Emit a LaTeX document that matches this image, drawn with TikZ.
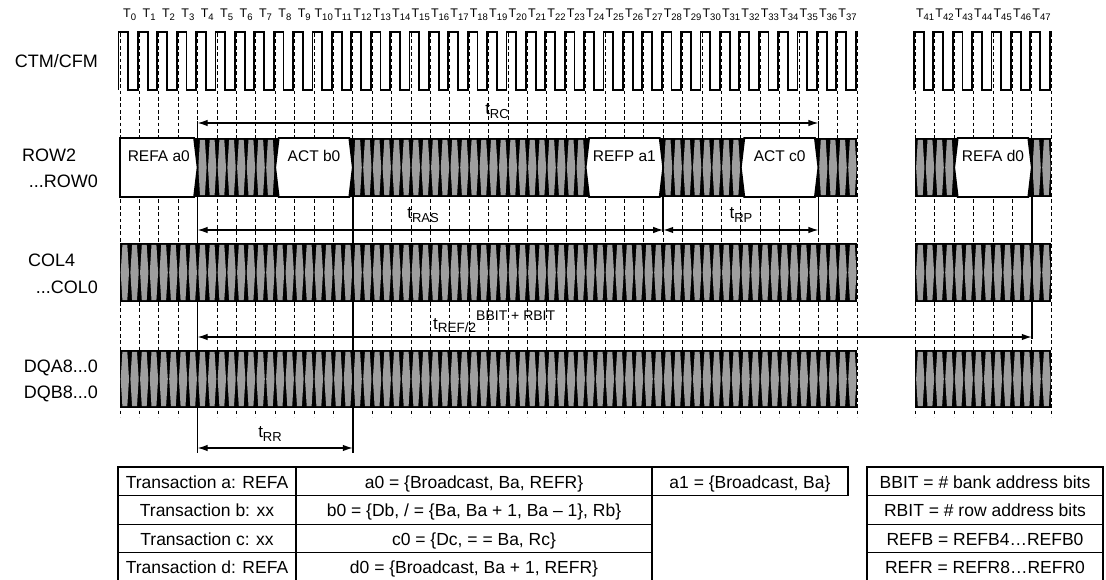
\documentclass[tikz,border=0pt]{standalone}
\usepackage{fontspec}
\setmainfont{Liberation Sans}
\usetikzlibrary{arrows.meta}
\definecolor{stip}{gray}{0.62}
\newcommand\tsub[1]{{\fontsize{17}{18}\selectfont t}\raisebox{-3.5pt}{\fontsize{13}{14}\selectfont #1}}
\newcommand\eyerow[4]{%
  \foreach \i in {#1,...,#2}{%
    \fill[stip] ({120.7+9.7*\i},{(#3+#4)/2}) -- ({122.4+9.7*\i},{#3+1.8}) -- ({127.3+9.7*\i},{#3+1.8})
      -- ({129.0+9.7*\i},{(#3+#4)/2}) -- ({127.3+9.7*\i},{#4-1.8}) -- ({122.4+9.7*\i},{#4-1.8}) -- cycle;
  }}
\newcommand\hexbox[4]{% xa, xb, label, name
  \draw[boxline] (#1,167.5) -- ({#1+3.5},138) -- ({#2-3.5},138) -- (#2,167.5) -- ({#2-3.5},197) -- ({#1+3.5},197) -- cycle;
  \node[boxlab] (#4) at ({(#1+#2)/2},156) {#3};}
\begin{document}
\begin{tikzpicture}[x=1pt,y=-1pt,
  gridline/.style={line width=1pt, dash pattern=on 3.8pt off 2.6pt},
  clk/.style={line width=1.8pt, line join=miter},
  boxline/.style={line width=1.8pt, fill=white, line join=miter},
  dimline/.style={line width=1.2pt, {Latex[length=10pt,width=6.5pt]}-{Latex[length=10pt,width=6.5pt]}},
  mkline/.style={line width=1.5pt},
  siglab/.style={font=\fontsize{18}{20}\selectfont, inner sep=0pt},
  boxlab/.style={font=\fontsize{15.5}{17}\selectfont, inner sep=0pt},
  tlab/.style={font=\fontsize{12.5}{13}\selectfont, inner sep=0pt, anchor=base},
  tablab/.style={font=\fontsize{17.5}{20}\selectfont, inner sep=0pt, anchor=base},
  cellline/.style={line width=1.2pt}
]
\useasboundingbox (0,0) rectangle (1106,580);

% dashed cycle lines
\foreach \k in {0,...,38}{\draw[gridline] ({120+19.4*\k},33) -- ({120+19.4*\k},417);}
\foreach \k in {41,...,48}{\draw[gridline] ({120+19.4*\k},33) -- ({120+19.4*\k},417);}

% cycle labels
\foreach \k in {0,...,37}{\node[tlab] (T\k) at ({129.7+19.4*\k},18) {T\raisebox{-2.4pt}{\fontsize{9.5}{10}\selectfont\k}};}
\foreach \k in {41,...,47}{\node[tlab] (T\k) at ({129.7+19.4*\k},18) {T\raisebox{-2.4pt}{\fontsize{9.5}{10}\selectfont\k}};}

% clock
\draw[clk] (118.5,90) \foreach \k in {0,...,37}{ -- ({118.5+19.4*\k},32) -- ({128.2+19.4*\k},32) -- ({128.2+19.4*\k},90) -- ({118.5+19.4*(\k+1)},90) } -- ({118.5+19.4*38},32) -- ({120.5+19.4*38},32);
\draw[clk] ({118.5+19.4*41},90) \foreach \k in {41,...,47}{ -- ({118.5+19.4*\k},32) -- ({128.2+19.4*\k},32) -- ({128.2+19.4*\k},90) -- ({118.5+19.4*(\k+1)},90) } -- ({118.5+19.4*48},32) -- ({120.5+19.4*48},32);

% bus backgrounds
\foreach \t/\b in {138/197,243/302,350/408}{
  \fill[black] (120,\t) rectangle (857.2,\b);
  \fill[black] (915.4,\t) rectangle (1051.2,\b);
}
% ROW eyes
\eyerow{8}{15}{138}{197}
\eyerow{24}{47}{138}{197}
\eyerow{56}{63}{138}{197}
\eyerow{72}{75}{138}{197}
\eyerow{82}{85}{138}{197}
\eyerow{94}{95}{138}{197}
% COL and DQ eyes
\eyerow{0}{75}{243}{302}
\eyerow{82}{95}{243}{302}
\eyerow{0}{75}{350}{408}
\eyerow{82}{95}{350}{408}

% ROW packets
\draw[boxline] (120,138) -- (194.1,138) -- (197.6,167.5) -- (194.1,197) -- (120,197) -- cycle;
\node[boxlab] (a0) at (158.8,156) {REFA a0};
\hexbox{275.2}{352.8}{ACT b0}{b0}
\hexbox{585.6}{663.2}{REFP a1}{a1}
\hexbox{740.8}{818.4}{ACT c0}{c0}
\hexbox{954.2}{1031.8}{REFA d0}{d0}

% signal names
\node[siglab, anchor=base east] (sclk) at (98,68) {CTM/CFM};
\node[siglab, anchor=base west] (srow2) at (22,162) {ROW2};
\node[siglab, anchor=base east] (srow0) at (98,188) {...ROW0};
\node[siglab, anchor=base west] (scol4) at (28,266) {COL4};
\node[siglab, anchor=base east] (scol0) at (98,293) {...COL0};
\node[siglab, anchor=base east] (sdqa) at (98,372) {DQA8...0};
\node[siglab, anchor=base east] (sdqb) at (98,398) {DQB8...0};

% marker lines
\coordinate (m4t) at (197.6,121); \coordinate (m4b) at (197.6,453);
\coordinate (m12t) at (352.8,138); \coordinate (m12b) at (352.8,453);
\coordinate (m28t) at (663.2,138); \coordinate (m28b) at (663.2,232);
\coordinate (m36t) at (818.4,121); \coordinate (m36b) at (818.4,232);
\coordinate (m47t) at (1031.8,138); \coordinate (m47b) at (1031.8,339);
\draw[mkline] (m4t) -- (m4b);
\draw[mkline] (m12t) -- (m12b);
\draw[mkline] (m28t) -- (m28b);
\draw[mkline] (m36t) -- (m36b);
\draw[mkline] (m47t) -- (m47b);

% dimension arrows
\coordinate (rcA) at (197.6,123); \coordinate (rcB) at (818.4,123);
\coordinate (rasA) at (197.6,230); \coordinate (rasB) at (663.2,230);
\coordinate (rpB) at (818.4,230);
\coordinate (refA) at (197.6,337); \coordinate (refB) at (1031.8,337);
\coordinate (rrA) at (197.6,448); \coordinate (rrB) at (352.8,448);
\draw[dimline] (rcA) -- (rcB);
\draw[dimline] (rasA) -- (rasB);
\draw[dimline] (rasB) -- (rpB);
\draw[dimline] (refA) -- (refB);
\draw[dimline] (rrA) -- (rrB);
\node[inner sep=0pt] (lRC) at (497,111) {\tsub{RC}};
\node[inner sep=0pt] (lRAS) at (423,215) {\tsub{RAS}};
\node[inner sep=0pt] (lRP) at (741,215) {\tsub{RP}};
\node[inner sep=0pt] (lRR) at (270,434) {\tsub{RR}};
\node[inner sep=0pt, anchor=base west] (lREF) at (433,329) {{\fontsize{17}{18}\selectfont t}\raisebox{-3.5pt}{\fontsize{13.5}{14}\selectfont REF/2}\raisebox{9pt}{\fontsize{14}{15}\selectfont BBIT + RBIT}};

% table left
\draw[cellline] (118,467) rectangle (652,581.4);
\foreach \r in {1,2,3}{\draw[cellline] (118,{467+28.6*\r}) -- (652,{467+28.6*\r});}
\draw[cellline] (296,467) -- (296,581.4);
\node[tablab] (ta) at (207,488) {Transaction a: REFA};
\node[tablab] (tb) at (207,516.6) {Transaction b: xx};
\node[tablab] (tc) at (207,545.2) {Transaction c: xx};
\node[tablab] (td) at (207,573.8) {Transaction d: REFA};
\node[tablab] (va0) at (474,488) {a0 = \{Broadcast, Ba, REFR\}};
\node[tablab] (vb0) at (474,516.6) {b0 = \{Db, / = \{Ba, Ba + 1, Ba – 1\}, Rb\}};
\node[tablab] (vc0) at (474,545.2) {c0 = \{Dc, = = Ba, Rc\}};
\node[tablab] (vd0) at (474,573.8) {d0 = \{Broadcast, Ba + 1, REFR\}};
\draw[cellline] (652,467) rectangle (848,495.6);
\node[tablab] (va1) at (750,488) {a1 = \{Broadcast, Ba\}};
% table right
\draw[cellline] (867,467) rectangle (1103,581.4);
\foreach \r in {1,2,3}{\draw[cellline] (867,{467+28.6*\r}) -- (1103,{467+28.6*\r});}
\node[tablab] (kb) at (985,488) {BBIT = \# bank address bits};
\node[tablab] (kr) at (985,516.6) {RBIT = \# row address bits};
\node[tablab] (kfb) at (985,545.2) {REFB = REFB4…REFB0};
\node[tablab] (kfr) at (985,573.8) {REFR = REFR8…REFR0};
\end{tikzpicture}
\end{document}
